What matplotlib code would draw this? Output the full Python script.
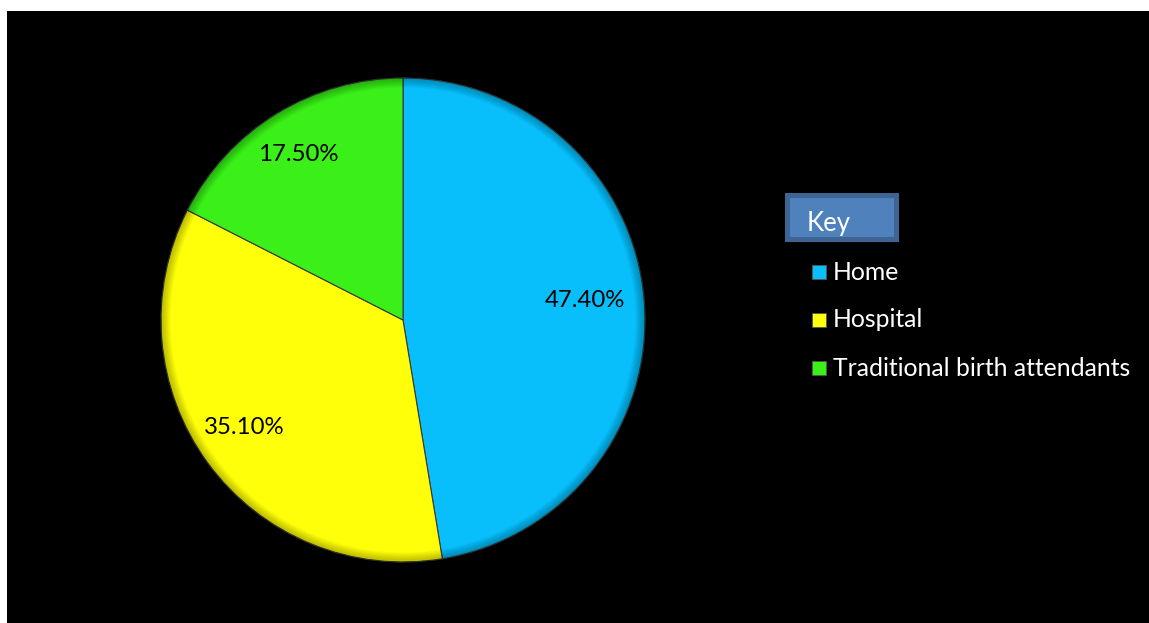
import matplotlib
matplotlib.use("Agg")
import matplotlib.pyplot as plt
from matplotlib.patches import Rectangle, Wedge

# Place of delivery shares
categories = ["Home", "Hospital", "Traditional birth attendants"]
shares = [47.40, 35.10, 17.50]
colors = ["#08BFFB", "#FFFF0A", "#3AF018"]
key_title = "Key"

W, H = 1149, 623
plt.rcParams["font.family"] = ["Lato", "DejaVu Sans"]

fig = plt.figure(figsize=(W / 100, H / 100), dpi=100, facecolor="white")

def px(x, y):
    """Pixel position (origin top-left) to figure fraction."""
    return x / W, 1 - y / H

# black slide background
fig.patches.append(Rectangle((7 / W, 0), 1 - 7 / W, 1 - 11 / H,
                             transform=fig.transFigure, facecolor="black",
                             edgecolor="none", zorder=-5))

# pie axes
cx, cy, r = 403, 320, 242
ax = fig.add_axes([(cx - r) / W, (H - cy - r) / H, 2 * r / W, 2 * r / H])
ax.set_zorder(1)
ax.set_facecolor("none")
wedges, texts, autotexts = ax.pie(
    shares, colors=colors, startangle=90, counterclock=False,
    autopct="%.2f%%", pctdistance=0.78,
    wedgeprops=dict(edgecolor="#3a3a3a", linewidth=0.8),
    textprops=dict(fontsize=17.3, color="black"))
for t in autotexts:
    x, y = t.get_position()
    t.set_position((x - 0.025, y + 0.017))
    t.set_zorder(6)
ax.set_xlim(-1.0, 1.0)
ax.set_ylim(-1.0, 1.0)
ax.set_aspect("equal")
ax.axis("off")

# soft bevel toward the rim
n = 12
for i in range(n):
    r0 = 1.0 - 0.04 * (i + 1) / n
    ax.add_patch(Wedge((0, 0), 1.0, 0, 360, width=1.0 - r0,
                       facecolor="black", edgecolor="none",
                       alpha=0.025, zorder=3))

# key box
bx0, by0, bx1, by1 = 785, 193, 899, 242
fig.patches.append(Rectangle(px(bx0, by1), (bx1 - bx0) / W, (by1 - by0) / H,
                             transform=fig.transFigure, facecolor="#3E6494",
                             edgecolor="none", zorder=2))
fig.patches.append(Rectangle(px(bx0 + 5, by1 - 5), (bx1 - bx0 - 10) / W,
                             (by1 - by0 - 10) / H, transform=fig.transFigure,
                             facecolor="#4F81BD", edgecolor="none", zorder=3))
fig.text(*px(807, 224), key_title, color="white", fontsize=18.5,
         va="center", ha="left", zorder=4)

# legend rows
row_y = [272, 320, 368]
for lab, col, y in zip(categories, colors, row_y):
    fig.patches.append(Rectangle(px(812, y + 7), 14 / W, 14 / H,
                                 transform=fig.transFigure, facecolor=col,
                                 edgecolor="#555555", linewidth=0.6, zorder=3))
    fig.text(*px(833, y), lab, color="white", fontsize=17.8,
             va="center", ha="left", zorder=4)

fig.savefig("out.png", dpi=100, facecolor="white")
